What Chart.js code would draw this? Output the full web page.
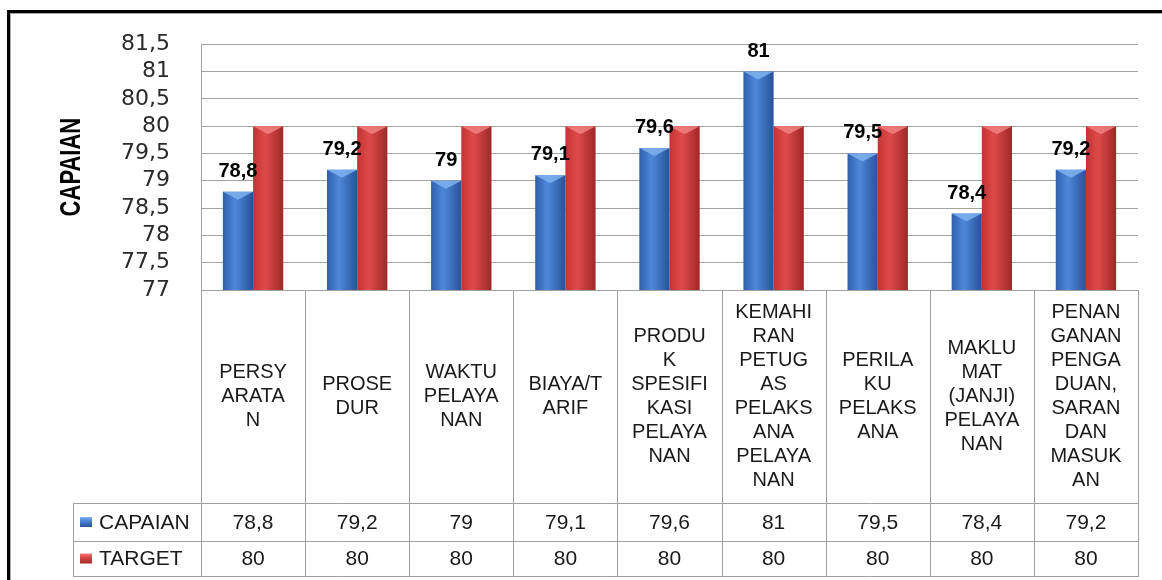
<!DOCTYPE html>
<html>
<head>
<meta charset="utf-8">
<script src="https://cdn.jsdelivr.net/npm/chart.js@4"></script>
<style>
html,body{margin:0;padding:0;background:#fff;}
#wrap{width:1162px;height:580px;position:relative;}
</style>
</head>
<body>
<div id="wrap"><canvas id="c" width="1162" height="580"></canvas></div>
<script>
// ---- data ----
const categoryLines = [
  ['PERSY','ARATA','N'],
  ['PROSE','DUR'],
  ['WAKTU','PELAYA','NAN'],
  ['BIAYA/T','ARIF'],
  ['PRODU','K','SPESIFI','KASI','PELAYA','NAN'],
  ['KEMAHI','RAN','PETUG','AS','PELAKS','ANA','PELAYA','NAN'],
  ['PERILA','KU','PELAKS','ANA'],
  ['MAKLU','MAT','(JANJI)','PELAYA','NAN'],
  ['PENAN','GANAN','PENGA','DUAN,','SARAN','DAN','MASUK','AN']
];
const capaian = [78.8, 79.2, 79, 79.1, 79.6, 81, 79.5, 78.4, 79.2];
const target  = [80, 80, 80, 80, 80, 80, 80, 80, 80];
const seriesNames = ['CAPAIAN', 'TARGET'];
const axisTitle = 'CAPAIAN';
const yMin = 77, yMax = 81.5, yStep = 0.5;

// ---- helpers ----
const fmt = v => String(v).replace('.', ',');
const CAT_PCT = 0.58;
const BLUE = ['#2f5fab', '#4f88d8', '#27529a'];
const RED  = ['#c23434', '#de4a4a', '#a02828'];
const CAP  = ['#7fb2f0', '#f08080'];

function barFill(colors) {
  return (c) => {
    const chart = c.chart;
    const xs = chart.scales && chart.scales.x;
    if (!chart.chartArea || !xs || c.type !== 'data') return colors[1];
    const n = chart.data.labels.length;
    const w = xs.width / n * CAT_PCT / 2;
    const cx = xs.getPixelForValue(c.dataIndex);
    const left = c.datasetIndex === 0 ? cx - w : cx;
    const g = chart.ctx.createLinearGradient(left, 0, left + w, 0);
    g.addColorStop(0, colors[0]);
    g.addColorStop(0.4, colors[1]);
    g.addColorStop(1, colors[2]);
    return g;
  };
}

const framePlugin = {
  id: 'frame',
  beforeDraw(chart) {
    const ctx = chart.ctx;
    ctx.save();
    ctx.fillStyle = '#fff';
    ctx.fillRect(0, 0, chart.width, chart.height);
    ctx.fillStyle = '#000';
    ctx.fillRect(7, 10, chart.width - 7, 3);
    ctx.fillRect(7, 10, 3, chart.height - 10);
    ctx.fillStyle = '#a8a8a8';
    ctx.fillRect(10, 13, chart.width - 10, 1);
    ctx.fillRect(10, 13, 1, chart.height - 13);
    // axis title
    const a = chart.chartArea;
    ctx.translate(72, (a.top + a.bottom) / 2);
    ctx.scale(1.3, 1);
    ctx.rotate(-Math.PI / 2);
    ctx.fillStyle = '#000';
    ctx.font = 'bold 22px "Liberation Sans", Arial, sans-serif';
    ctx.textAlign = 'center';
    ctx.textBaseline = 'middle';
    ctx.fillText(axisTitle, 0, 0);
    ctx.restore();
  }
};

const barDecorPlugin = {
  id: 'barDecor',
  afterDatasetsDraw(chart) {
    const ctx = chart.ctx;
    ctx.save();
    chart.data.datasets.forEach((ds, di) => {
      const meta = chart.getDatasetMeta(di);
      meta.data.forEach((el) => {
        const p = el.getProps(['x', 'y', 'width'], true);
        const l = p.x - p.width / 2, r = p.x + p.width / 2;
        ctx.fillStyle = CAP[di];
        ctx.globalAlpha = 0.85;
        ctx.beginPath();
        ctx.moveTo(l, p.y);
        ctx.lineTo(r, p.y);
        ctx.lineTo(p.x, p.y + 8);
        ctx.closePath();
        ctx.fill();
        ctx.globalAlpha = 1;
      });
    });
    // data labels for CAPAIAN
    const meta0 = chart.getDatasetMeta(0);
    ctx.fillStyle = '#000';
    ctx.font = 'bold 20px "Liberation Sans", Arial, sans-serif';
    ctx.textAlign = 'center';
    ctx.textBaseline = 'alphabetic';
    meta0.data.forEach((el, i) => {
      const p = el.getProps(['x', 'y'], true);
      ctx.fillText(fmt(chart.data.datasets[0].data[i]), p.x, p.y - 15);
    });
    ctx.restore();
  }
};

const tablePlugin = {
  id: 'dataTable',
  afterDraw(chart) {
    const ctx = chart.ctx;
    const a = chart.chartArea;
    const xs = chart.scales.x;
    const n = chart.data.labels.length;
    const cw = xs.width / n;
    const r0 = a.bottom, r1 = a.bottom + 213, r2 = r1 + 38, r3 = r2 + 35;
    const legL = 73;
    ctx.save();
    ctx.strokeStyle = '#a0a0a0';
    ctx.lineWidth = 1;
    ctx.beginPath();
    const hl = (x1, x2, y) => { ctx.moveTo(x1, Math.round(y) + 0.5); ctx.lineTo(x2, Math.round(y) + 0.5); };
    const vl = (x, y1, y2) => { ctx.moveTo(Math.round(x) + 0.5, y1); ctx.lineTo(Math.round(x) + 0.5, y2); };
    hl(a.left, a.right, r0);
    hl(legL, a.right, r1);
    hl(legL, a.right, r2);
    hl(legL, a.right, r3);
    for (let k = 0; k <= n; k++) vl(a.left + k * cw, r0, r3 + 1);
    vl(legL, r1, r3 + 1);
    ctx.stroke();

    // category labels
    ctx.fillStyle = '#1a1a1a';
    ctx.font = '20px "Liberation Sans", Arial, sans-serif';
    ctx.textAlign = 'center';
    ctx.textBaseline = 'middle';
    const lh = 24;
    const midY = (r0 + r1) / 2;
    chart.data.labels.forEach((lines, i) => {
      const cx = xs.getPixelForValue(i);
      lines.forEach((t, j) => {
        ctx.fillText(t, cx, midY + (j - (lines.length - 1) / 2) * lh);
      });
    });

    // values rows
    ctx.font = '21px "Liberation Sans", Arial, sans-serif';
    const rowMid = [(r1 + r2) / 2 + 1, (r2 + r3) / 2 + 1];
    chart.data.datasets.forEach((ds, di) => {
      ds.data.forEach((v, i) => {
        ctx.fillText(fmt(v), xs.getPixelForValue(i), rowMid[di]);
      });
    });

    // legend keys
    const keyCols = [BLUE, RED];
    ctx.textAlign = 'left';
    chart.data.datasets.forEach((ds, di) => {
      const y = rowMid[di] - 1;
      const g = ctx.createLinearGradient(0, y - 5, 0, y + 5);
      g.addColorStop(0, CAP[di]);
      g.addColorStop(0.35, keyCols[di][1]);
      g.addColorStop(1, keyCols[di][2]);
      ctx.fillStyle = g;
      ctx.fillRect(80, y - 5, 12, 10);
      ctx.fillStyle = '#1a1a1a';
      ctx.fillText(ds.label, 99, y + 1);
    });
    ctx.restore();
  }
};

new Chart(document.getElementById('c'), {
  type: 'bar',
  data: {
    labels: categoryLines,
    datasets: [
      { label: seriesNames[0], data: capaian, backgroundColor: barFill(BLUE), borderWidth: 0 },
      { label: seriesNames[1], data: target, backgroundColor: barFill(RED), borderWidth: 0 }
    ]
  },
  options: {
    responsive: false,
    animation: false,
    events: [],
    layout: { padding: { top: 42, right: 24, bottom: 290, left: 0 } },
    datasets: { bar: { categoryPercentage: CAT_PCT, barPercentage: 1 } },
    plugins: { legend: { display: false }, tooltip: { enabled: false } },
    scales: {
      x: { display: false },
      y: {
        min: yMin, max: yMax,
        afterFit(scale) { scale.width = 201; },
        ticks: {
          stepSize: yStep, autoSkip: false, padding: 31,
          color: '#2a2a2a',
          font: { family: '"DejaVu Sans", sans-serif', size: 22 },
          callback: (v) => fmt(v)
        },
        grid: { color: '#a3a3a3', drawTicks: false, lineWidth: 1 },
        border: { display: true, color: '#a3a3a3' }
      }
    }
  },
  plugins: [framePlugin, barDecorPlugin, tablePlugin]
});
</script>
</body>
</html>
